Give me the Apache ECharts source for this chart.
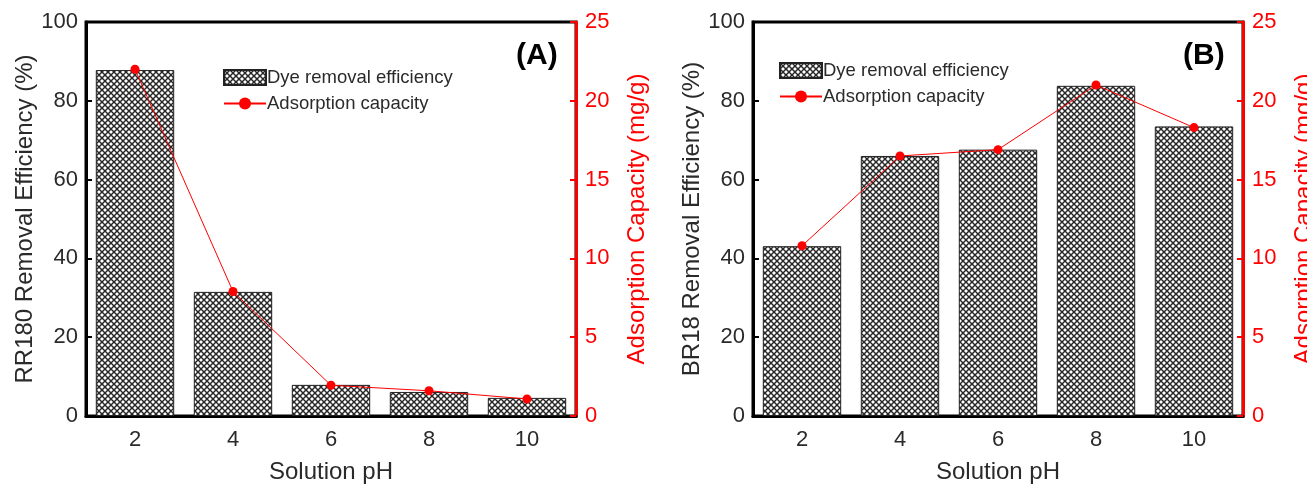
<!DOCTYPE html>
<html>
<head>
<meta charset="utf-8">
<script src="https://cdn.jsdelivr.net/npm/echarts@6/dist/echarts.min.js"></script>
<style>html,body{margin:0;padding:0;background:#fff}#c{width:1307px;height:486px}</style>
</head>
<body>
<div id="c"></div>
<script>
const categories = ['2', '4', '6', '8', '10'];
const effA = [87.8, 31.5, 7.9, 6.1, 4.6];
const capA = [22.0, 7.9, 1.95, 1.6, 1.08];
const effB = [43.1, 66.0, 67.6, 83.8, 73.5];
const capB = [10.8, 16.5, 16.9, 21.0, 18.3];
const leftTicks = { min: 0, max: 100, interval: 20 };
const rightTicks = { min: 0, max: 25, interval: 5 };

const cv = document.createElement('canvas');
cv.width = 6; cv.height = 6;
const g = cv.getContext('2d');
g.fillStyle = '#ffffff'; g.fillRect(0, 0, 6, 6);
g.strokeStyle = '#262626'; g.lineWidth = 1.45;
g.beginPath();
g.moveTo(-1, -1); g.lineTo(7, 7);
g.moveTo(7, -1); g.lineTo(-1, 7);
g.stroke();
const hatch = { image: cv, repeat: 'repeat' };

const FONT = 'Liberation Sans, Arial, sans-serif';
const chart = echarts.init(document.getElementById('c'), null, { renderer: 'canvas' });

function xAxis(idx) {
  return {
    type: 'category', gridIndex: idx, data: categories,
    axisLine: { lineStyle: { color: '#000', width: 3 } },
    axisTick: { inside: true, length: 5, alignWithLabel: true, lineStyle: { color: '#000', width: 2 } },
    axisLabel: { color: '#2a2a2a', fontSize: 22, fontFamily: FONT, margin: 13 },
    name: 'Solution pH', nameLocation: 'middle', nameGap: 44,
    nameTextStyle: { color: '#2a2a2a', fontSize: 24, fontFamily: FONT }
  };
}
function yLeft(idx, name) {
  return {
    type: 'value', gridIndex: idx, position: 'left',
    min: leftTicks.min, max: leftTicks.max, interval: leftTicks.interval,
    axisLine: { show: true, lineStyle: { color: '#000', width: 3 } },
    axisTick: { show: true, inside: true, length: 6, lineStyle: { color: '#000', width: 2 } },
    axisLabel: { color: '#2a2a2a', fontSize: 22, fontFamily: FONT, margin: 8 },
    splitLine: { show: false },
    name: name, nameLocation: 'middle', nameGap: 49,
    nameTextStyle: { color: '#2a2a2a', fontSize: 24, fontFamily: FONT }
  };
}
function yRight(idx) {
  return {
    type: 'value', gridIndex: idx, position: 'right',
    min: rightTicks.min, max: rightTicks.max, interval: rightTicks.interval,
    axisLine: { show: true, lineStyle: { color: '#ff0000', width: 3 } },
    axisTick: { show: true, inside: true, length: 6, lineStyle: { color: '#ff0000', width: 2 } },
    axisLabel: { color: '#ff0000', fontSize: 22, fontFamily: FONT, margin: 9 },
    splitLine: { show: false },
    name: 'Adsorption Capacity (mg/g)', nameLocation: 'middle', nameGap: 49,
    nameRotate: 90,
    nameTextStyle: { color: '#ff0000', fontSize: 24, fontFamily: FONT }
  };
}
function barSeries(idx, data) {
  return {
    type: 'bar', name: 'Dye removal efficiency', xAxisIndex: idx, yAxisIndex: idx * 2,
    data: data, barCategoryGap: '20%',
    itemStyle: { color: hatch, borderColor: '#222', borderWidth: 1 },
    emphasis: { disabled: true }
  };
}
function lineSeries(idx, data) {
  return {
    type: 'line', name: 'Adsorption capacity', xAxisIndex: idx, yAxisIndex: idx * 2 + 1,
    data: data, symbol: 'circle', symbolSize: 9,
    lineStyle: { color: '#ff0000', width: 1 },
    itemStyle: { color: '#ff0000' },
    emphasis: { disabled: true }
  };
}
function legend(idx, left, top) {
  return {
    data: [
      { name: 'Dye removal efficiency', icon: 'rect' },
      { name: 'Adsorption capacity' }
    ],
    orient: 'vertical', left: left, top: top,
    itemWidth: 42, itemHeight: 15, itemGap: 7,
    textStyle: { color: '#2a2a2a', fontSize: 18.5, fontFamily: FONT, padding: [0, 0, 0, -4] },
    selectedMode: false
  };
}

chart.setOption({
  animation: false,
  backgroundColor: '#fff',
  grid: [
    { left: 86, right: 731, top: 22, bottom: 70, outerBoundsMode: 'none', containLabel: false, show: true, borderColor: '#000', borderWidth: 3, backgroundColor: 'transparent' },
    { left: 753, right: 64, top: 22, bottom: 70, outerBoundsMode: 'none', containLabel: false, show: true, borderColor: '#000', borderWidth: 3, backgroundColor: 'transparent' }
  ],
  legend: [legend(0, 218, 63), legend(1, 774, 56)],
  xAxis: [xAxis(0), xAxis(1)],
  yAxis: [yLeft(0, 'RR180 Removal Efficiency (%)'), yRight(0), yLeft(1, 'BR18 Removal Efficiency (%)'), yRight(1)],
  series: [barSeries(0, effA), lineSeries(0, capA), barSeries(1, effB), lineSeries(1, capB)],
  graphic: [
    { type: 'text', left: 516, top: 41, style: { text: '(A)', font: 'bold 30px ' + FONT, fill: '#000' } },
    { type: 'text', left: 1183, top: 41, style: { text: '(B)', font: 'bold 30px ' + FONT, fill: '#000' } }
  ]
});
</script>
</body>
</html>
